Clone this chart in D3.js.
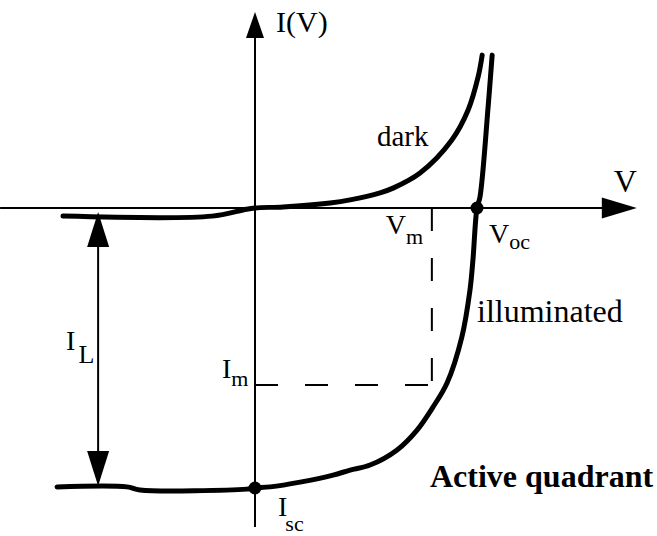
<!DOCTYPE html>
<html>
<head>
<meta charset="utf-8">
<script src="https://cdn.jsdelivr.net/npm/d3@7"></script>
<style>
  html, body { margin: 0; padding: 0; background: #fff; }
  svg { display: block; }
  text { font-family: "Liberation Serif", "Times New Roman", serif; fill: #000; }
</style>
</head>
<body>
<script>
// Solar cell I–V characteristic (schematic), voltages normalised to Voc = 0.6,
// currents normalised to the photocurrent I_L = 1.

// Dark curve
const darkV = [-0.519, -0.116, -0.032, 0, 0.076, 0.203, 0.257, 0.338, 0.373, 0.446, 0.532, 0.576, 0.603, 0.614];
const darkI = [-0.029, -0.029, -0.007, 0, 0.004, 0.018, 0.029, 0.054, 0.071, 0.125, 0.243, 0.350, 0.468, 0.546];

// Illuminated curve
const lightV = [-0.535, -0.346, -0.311, -0.022, 0, 0.041, 0.122, 0.211, 0.257, 0.311, 0.384, 0.438, 0.481, 0.519, 0.559, 0.581, 0.589, 0.600, 0.608, 0.630, 0.641];
const lightI = [-0.996, -0.996, -1.007, -1.004, -1, -0.996, -0.979, -0.954, -0.936, -0.918, -0.864, -0.793, -0.711, -0.625, -0.461, -0.293, -0.186, 0, 0.039, 0.361, 0.546];

// Characteristic points
const Voc = 0.6, Isc = -1;
const Vm = 0.478, Im = -0.632;
const IL_V = -0.424, IL_top = -0.014, IL_bottom = -0.993;

// Axis extents
const vAxis = [-0.689, 1.032];
const iAxis = [-1.139, 0.70];

const W = 657, H = 536;
const x = d3.scaleLinear().domain([0, Voc]).range([255, 477]);
const y = d3.scaleLinear().domain([0, Isc]).range([208, 488]);

const svg = d3.select("body").append("svg").attr("width", W).attr("height", H);

// Axes with arrowheads
const axisW = 2;
const hHead = 35, hHalf = 10.5;
svg.append("line")
  .attr("x1", x(vAxis[0])).attr("x2", x(vAxis[1]) - hHead + 2)
  .attr("y1", y(0)).attr("y2", y(0))
  .attr("stroke", "#000").attr("stroke-width", axisW);
svg.append("path")
  .attr("d", `M${x(vAxis[1])},${y(0)} L${x(vAxis[1]) - hHead},${y(0) - hHalf} L${x(vAxis[1]) - hHead},${y(0) + hHalf} Z`)
  .attr("fill", "#000");

const vHead = 26, vHalf = 9;
svg.append("line")
  .attr("x1", x(0)).attr("x2", x(0))
  .attr("y1", y(iAxis[0])).attr("y2", y(iAxis[1]) + vHead - 2)
  .attr("stroke", "#000").attr("stroke-width", axisW);
svg.append("path")
  .attr("d", `M${x(0)},${y(iAxis[1])} L${x(0) - vHalf},${y(iAxis[1]) + vHead} L${x(0) + vHalf},${y(iAxis[1]) + vHead} Z`)
  .attr("fill", "#000");

// Dashed maximum-power rectangle
const dash = "23,27";
svg.append("line")
  .attr("x1", x(Vm)).attr("x2", x(Vm))
  .attr("y1", y(0)).attr("y2", y(Im))
  .attr("stroke", "#000").attr("stroke-width", 2).attr("stroke-dasharray", dash);
svg.append("line")
  .attr("x1", x(0)).attr("x2", x(Vm))
  .attr("y1", y(Im)).attr("y2", y(Im))
  .attr("stroke", "#000").attr("stroke-width", 2).attr("stroke-dasharray", dash);

// Curves
const line = d3.line()
  .x(d => x(d[0])).y(d => y(d[1]))
  .curve(d3.curveCatmullRom.alpha(0.5));

svg.append("path")
  .datum(d3.zip(darkV, darkI))
  .attr("d", line)
  .attr("fill", "none").attr("stroke", "#000").attr("stroke-width", 5)
  .attr("stroke-linecap", "round").attr("stroke-linejoin", "round");

svg.append("path")
  .datum(d3.zip(lightV, lightI))
  .attr("d", line)
  .attr("fill", "none").attr("stroke", "#000").attr("stroke-width", 5)
  .attr("stroke-linecap", "round").attr("stroke-linejoin", "round");

// I_L double arrow
const aHead = 35, aHalf = 11;
svg.append("line")
  .attr("x1", x(IL_V)).attr("x2", x(IL_V))
  .attr("y1", y(IL_top) + aHead - 2).attr("y2", y(IL_bottom) - aHead + 2)
  .attr("stroke", "#000").attr("stroke-width", 2);
svg.append("path")
  .attr("d", `M${x(IL_V)},${y(IL_top)} L${x(IL_V) - aHalf},${y(IL_top) + aHead} L${x(IL_V) + aHalf},${y(IL_top) + aHead} Z`)
  .attr("fill", "#000");
svg.append("path")
  .attr("d", `M${x(IL_V)},${y(IL_bottom)} L${x(IL_V) - aHalf},${y(IL_bottom) - aHead} L${x(IL_V) + aHalf},${y(IL_bottom) - aHead} Z`)
  .attr("fill", "#000");

// Marked points
svg.selectAll("circle.pt")
  .data([[Voc, 0], [0, Isc]])
  .join("circle")
  .attr("class", "pt")
  .attr("cx", d => x(d[0])).attr("cy", d => y(d[1]))
  .attr("r", 6.5).attr("fill", "#000");

// Labels
const FS = 28, SUB = 22;
function label(tx, ty, main, sub, subDy, opts = {}) {
  const t = svg.append("text").attr("x", tx).attr("y", ty)
    .style("font-size", (opts.size || FS) + "px");
  if (opts.bold) t.style("font-weight", "bold");
  t.append("tspan").text(main);
  if (sub) {
    t.append("tspan").attr("dy", subDy).attr("dx", opts.subDx || 0)
      .style("font-size", (opts.subSize || SUB) + "px").text(sub);
  }
  return t;
}

label(x(0) + 21, 32, "I(V)", null, 0, { size: 30 });
label(x(vAxis[1]) - 23, 192, "V", null, 0, { size: 32 });
label(377, 146, "dark", null, 0, { size: 29 });
label(x(Voc) + 12, 243, "V", "oc", 6);
label(x(Vm) - 46, 234, "V", "m", 10);
label(x(Voc), 322, "illuminated", null, 0, { size: 32 });
label(x(IL_V) - 32, 350, "I", "L", 13, { subSize: 26, subDx: 3 });
label(x(0) - 33, 378, "I", "m", 8);
label(x(0) + 23, 516, "I", "sc", 15, { subDx: -2 });
label(430, 487, "Active quadrant", null, 0, { bold: true, size: 32 });
</script>
</body>
</html>
